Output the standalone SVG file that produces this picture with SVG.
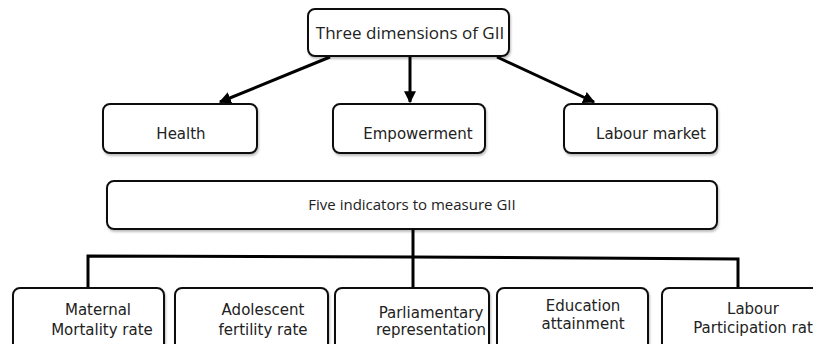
<svg xmlns="http://www.w3.org/2000/svg" width="813" height="344" viewBox="0 0 813 344">
  <defs>
    <marker id="arrowhead" viewBox="0 0 10 10" refX="9" refY="5" markerWidth="4" markerHeight="4" orient="auto" markerUnits="strokeWidth">
      <path d="M0,0 L10,5 L0,10 z" fill="#000"/>
    </marker>
    <filter id="shadow" x="-5%" y="-10%" width="110%" height="130%">
      <feDropShadow dx="1" dy="2" stdDeviation="1" flood-color="#000" flood-opacity="0.25"/>
    </filter>
  </defs>
  <style>
    .box { fill: #fff; stroke: #111; stroke-width: 2; filter: url(#shadow); }
    .lbl { font-family: "DejaVu Sans", Verdana, sans-serif; font-size: 15px; fill: #222; text-anchor: middle; }
    .top { font-family: "Open Sans", "DejaVu Sans", sans-serif; }
    .conn { fill: none; stroke: #000; stroke-width: 3; }
  </style>
  <rect width="813" height="344" fill="#fff"/>

  <g id="connectors">
    <line class="conn" x1="330" y1="57" x2="220" y2="102" marker-end="url(#arrowhead)"/>
    <line class="conn" x1="410" y1="57" x2="410" y2="102" marker-end="url(#arrowhead)"/>
    <line class="conn" x1="497" y1="57" x2="594" y2="102" marker-end="url(#arrowhead)"/>
    <line class="conn" x1="413" y1="230" x2="413" y2="288"/>
    <polyline class="conn" points="88,288 88,256 413,257 738,259 738,288"/>
  </g>

  <g id="gii">
    <rect class="box" x="308" y="9" width="201" height="47" rx="7"/>
    <text class="lbl top" x="410" y="39" style="font-size:17px">Three dimensions of GII</text>
  </g>

  <g id="health">
    <rect class="box" x="103" y="104" width="154" height="49" rx="7"/>
    <text class="lbl" x="181" y="139">Health</text>
  </g>

  <g id="empowerment">
    <rect class="box" x="333" y="104" width="152" height="49" rx="7"/>
    <text class="lbl" x="418" y="139">Empowerment</text>
  </g>

  <g id="labour-market">
    <rect class="box" x="564" y="104" width="153" height="49" rx="7"/>
    <text class="lbl" x="651" y="139">Labour market</text>
  </g>

  <g id="indicators">
    <rect class="box" x="107" y="181" width="610" height="48" rx="7"/>
    <text class="lbl top" x="412" y="210">Five indicators to measure GII</text>
  </g>

  <g id="maternal">
    <rect class="box" x="13" y="288" width="151" height="70" rx="7"/>
    <text class="lbl" x="98" y="315">Maternal</text>
    <text class="lbl" x="102" y="335">Mortality rate</text>
  </g>

  <g id="adolescent">
    <rect class="box" x="175" y="288" width="153" height="70" rx="7"/>
    <text class="lbl" x="263" y="315">Adolescent</text>
    <text class="lbl" x="263" y="335">fertility rate</text>
  </g>

  <g id="parliamentary">
    <rect class="box" x="335" y="288" width="154" height="70" rx="7"/>
    <text class="lbl" x="431" y="318">Parliamentary</text>
    <text class="lbl" x="431" y="335">representation</text>
  </g>

  <g id="education">
    <rect class="box" x="497" y="288" width="151" height="70" rx="7"/>
    <text class="lbl" x="583" y="311">Education</text>
    <text class="lbl" x="583" y="329">attainment</text>
  </g>

  <g id="labour-participation">
    <rect class="box" x="662" y="288" width="170" height="70" rx="7"/>
    <text class="lbl" x="753" y="314">Labour</text>
    <text class="lbl" x="753" y="333">Participation rat</text>
  </g>
</svg>
